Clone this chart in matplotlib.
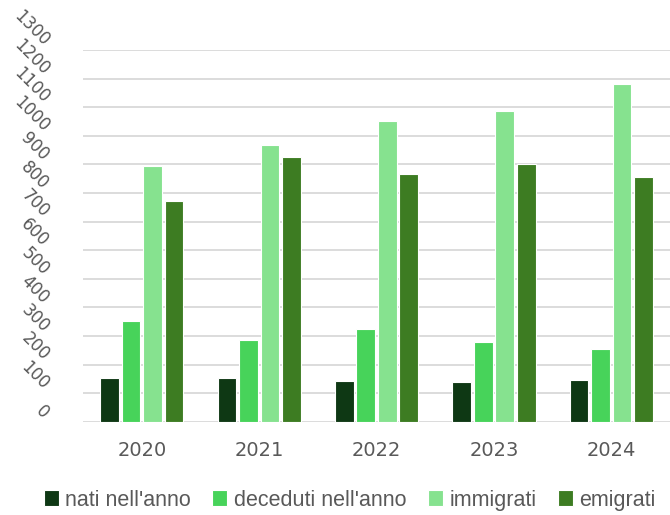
import matplotlib
matplotlib.use('Agg')
import matplotlib.pyplot as plt
import numpy as np

anni = ['2020', '2021', '2022', '2023', '2024']
nati = [153, 154, 142, 140, 146]
deceduti = [352, 286, 323, 279, 254]
immigrati = [896, 967, 1051, 1088, 1181]
emigrati = [772, 925, 865, 903, 855]

serie = ["nati nell'anno", "deceduti nell'anno", "immigrati", "emigrati"]
colori = ['#0e3814', '#47d35a', '#86e28f', '#3d7c22']
grigio = '#595959'

fig = plt.figure(figsize=(6.7, 5.15), dpi=100)
ax = fig.add_axes([0.124, 0.181, 0.876, 0.722])

x = np.arange(len(anni))
passo = 0.183
larghezza = 0.16
for i, (valori, nome, col) in enumerate(zip([nati, deceduti, immigrati, emigrati], serie, colori)):
    ax.bar(x + (i - 1.5) * passo, valori, width=larghezza, color=col,
           edgecolor='white', linewidth=0.8, label=nome, zorder=3)

ax.set_xlim(-0.5, len(anni) - 0.5)
ax.set_ylim(0, 1300)
ax.set_yticks(range(0, 1301, 100))
ax.yaxis.grid(True, color='#d9d9d9', linewidth=1.3, zorder=0)
for s in ax.spines.values():
    s.set_visible(False)

ax.set_xticks(x)
ax.set_xticklabels(anni, fontsize=14, color=grigio)
ax.tick_params(axis='x', length=0, pad=14)
ax.tick_params(axis='y', length=0, pad=22)
for lab in ax.get_yticklabels():
    lab.set_rotation(-45)
    lab.set_fontsize(12)
    lab.set_color(grigio)
    lab.set_ha('right')
    lab.set_va('bottom')

leg = fig.legend(loc='center', bbox_to_anchor=(0.522, 0.029), ncol=4, frameon=False,
                 handlelength=0.7, handleheight=0.7, handletextpad=0.3, columnspacing=1.0,
                 prop={'family': ['Liberation Sans', 'DejaVu Sans'], 'size': 15.5})
for t in leg.get_texts():
    t.set_color(grigio)

fig.savefig('out.png', dpi=100)
